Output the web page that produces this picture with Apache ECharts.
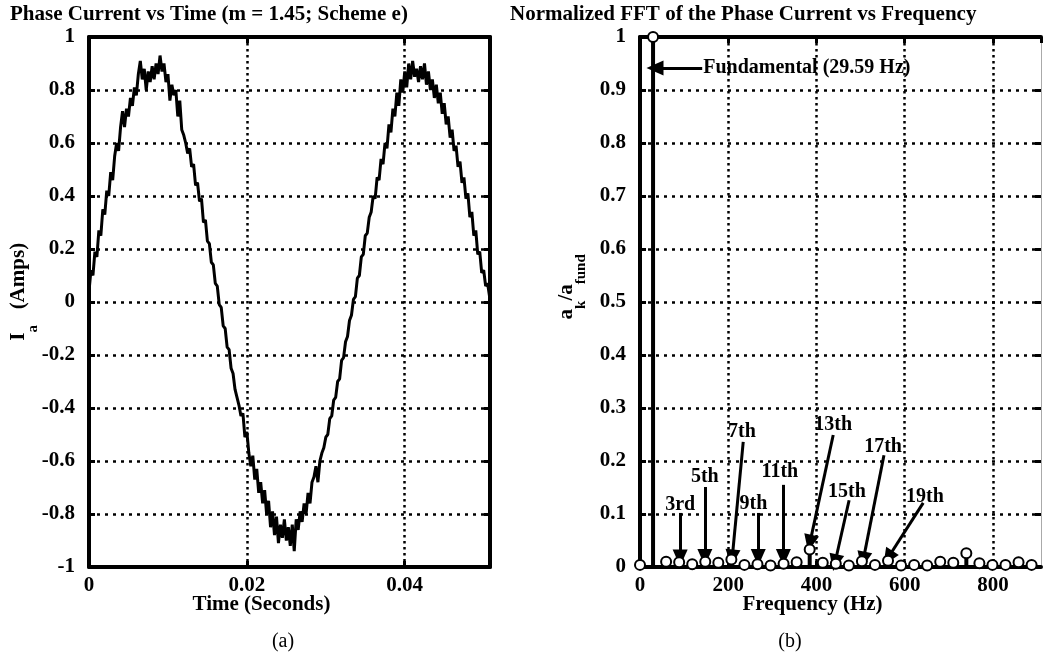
<!DOCTYPE html>
<html>
<head>
<meta charset="utf-8">
<script src="https://cdn.jsdelivr.net/npm/echarts@6/dist/echarts.min.js"></script>
<style>
html,body{margin:0;padding:0;background:#fff;}
#chart{width:1044px;height:664px;}
</style>
</head>
<body>
<div id="chart"></div>
<script>
// ---------------- DATA ----------------
// (a) phase current samples, one every sampleStep seconds
const sampleStep = 0.00025;
const currentA = [
 0.04, 0.12, 0.10, 0.19, 0.17, 0.27, 0.25, 0.35, 0.33, 0.42,
 0.40, 0.49, 0.46, 0.55, 0.60, 0.57, 0.66, 0.72, 0.66, 0.73,
 0.70, 0.77, 0.74, 0.81, 0.78, 0.86, 0.91, 0.84, 0.88, 0.80,
 0.87, 0.83, 0.89, 0.84, 0.90, 0.86, 0.93, 0.87, 0.90, 0.83,
 0.86, 0.76, 0.82, 0.78, 0.80, 0.70, 0.76, 0.65, 0.63, 0.60,
 0.56, 0.58, 0.51, 0.52, 0.44, 0.45, 0.38, 0.39, 0.30, 0.31,
 0.23, 0.22, 0.15, 0.14, 0.07, 0.06, -0.01, -0.02, -0.09, -0.10,
 -0.17, -0.18, -0.25, -0.27, -0.33, -0.36, -0.39, -0.43, -0.42, -0.51,
 -0.49, -0.57, -0.62, -0.58, -0.67, -0.63, -0.72, -0.68, -0.76, -0.71,
 -0.80, -0.75, -0.85, -0.79, -0.88, -0.81, -0.91, -0.84, -0.89, -0.82,
 -0.90, -0.85, -0.92, -0.84, -0.94, -0.82, -0.86, -0.79, -0.83, -0.76,
 -0.80, -0.72, -0.76, -0.68, -0.66, -0.62, -0.68, -0.60, -0.57, -0.55,
 -0.51, -0.50, -0.44, -0.43, -0.37, -0.36, -0.30, -0.29, -0.22, -0.21,
 -0.15, -0.13, -0.07, -0.05, 0.01, 0.02, 0.09, 0.10, 0.17, 0.18,
 0.25, 0.26, 0.32, 0.34, 0.40, 0.39, 0.47, 0.46, 0.54, 0.52,
 0.60, 0.58, 0.67, 0.64, 0.73, 0.70, 0.79, 0.74, 0.84, 0.79,
 0.87, 0.81, 0.90, 0.84, 0.91, 0.85, 0.88, 0.83, 0.89, 0.84,
 0.90, 0.82, 0.87, 0.80, 0.84, 0.77, 0.82, 0.75, 0.79, 0.71,
 0.75, 0.67, 0.70, 0.62, 0.65, 0.57, 0.59, 0.51, 0.53, 0.45,
 0.47, 0.39, 0.41, 0.32, 0.34, 0.25, 0.27, 0.18, 0.19, 0.11,
 0.12, 0.06, 0.07, 0.02
];
const timeTicks = { min: 0, max: 0.0508, interval: 0.02 };
const currentTicks = { min: -1, max: 1, interval: 0.2 };

// (b) normalized FFT harmonics
const harmonicFreqHz = [
 0, 29.59, 59.18, 88.77, 118.36, 147.95, 177.54, 207.13, 236.72, 266.31,
 295.9, 325.49, 355.08, 384.67, 414.26, 443.85, 473.44, 503.03, 532.62, 562.21,
 591.8, 621.39, 650.98, 680.57, 710.16, 739.75, 769.34, 798.93, 828.52, 858.11, 887.7
];
const harmonicAmp = [
 0.004, 1.0, 0.010, 0.009, 0.005, 0.010, 0.008, 0.014, 0.004, 0.005,
 0.003, 0.006, 0.009, 0.033, 0.008, 0.006, 0.003, 0.011, 0.004, 0.012,
 0.003, 0.004, 0.003, 0.010, 0.008, 0.026, 0.007, 0.004, 0.004, 0.009, 0.004
];
const freqTicks = { min: 0, max: 909, interval: 200 };
const ampTicks = { min: 0, max: 1, interval: 0.1 };

// annotations (data coordinates: Hz, normalized amplitude)
const harmonicNames = ['3rd', '5th', '7th', '9th', '11th', '13th', '15th', '17th', '19th'];
const harmonicLabelAt = [[91,0.117],[147,0.170],[231,0.255],[257,0.120],[317,0.180],[438,0.268],[469,0.142],[551,0.226],[646,0.132]];
const arrowFrom = [[91,0.102],[147,0.151],[234,0.236],[268,0.102],[325,0.155],[438,0.249],[474,0.126],[553,0.211],[642,0.121]];
const arrowTo   = [[91,0.017],[147,0.018],[209,0.017],[268,0.018],[325,0.018],[385,0.045],[442,0.008],[506,0.013],[562,0.017]];
const fundamentalText = 'Fundamental (29.59 Hz)';
const fundamentalArrowFrom = [141, 0.9415];
const fundamentalArrowTo = [34, 0.9415];

// ---------------- CHART ----------------
const FONT = '"Liberation Serif", "Times New Roman", serif';
const chart = echarts.init(document.getElementById('chart'), null, { renderer: 'canvas' });

const lineData = currentA.map((v, i) => [i * sampleStep, v]);
const stemData = harmonicFreqHz.map((f, i) => [f, harmonicAmp[i]]);

const boldText = (size) => ({ fontFamily: FONT, fontWeight: 'bold', fontSize: size, color: '#000' });

function frameAxis(extra) {
  return Object.assign({
    type: 'value',
    nameMoveOverlap: false,
    axisLine: { show: true, onZero: false, lineStyle: { color: '#000', width: 4 } },
    axisTick: { show: true, inside: true, length: 6, lineStyle: { color: '#000', width: 3 } },
    axisLabel: { show: false },
    splitLine: { show: false }
  }, extra);
}

const grids = [
  { left: 89, top: 37, width: 401, height: 530 },
  { left: 640, top: 37, width: 401, height: 530 }
];

const hGrid = { show: true, lineStyle: { color: '#000', width: 2.5, type: [3, 5] } };
const vGrid = { show: true, lineStyle: { color: '#000', width: 2.5, type: [2.5, 3.5] } };

const subRich = {
  m: Object.assign({ lineHeight: 20, verticalAlign: 'top' }, boldText(21)),
  s: Object.assign({ lineHeight: 15, verticalAlign: 'bottom' }, boldText(15)),
  x: { lineHeight: 33, fontSize: 4 }
};

const option = {
  backgroundColor: '#fff',
  animation: false,
  grid: grids,
  xAxis: [
    frameAxis({
      gridIndex: 0, position: 'bottom', min: timeTicks.min, max: timeTicks.max, interval: timeTicks.interval,
      axisLabel: Object.assign({ show: true, margin: 8, showMaxLabel: false }, boldText(21)),
      splitLine: vGrid,
      name: 'Time (Seconds)', nameLocation: 'middle', nameGap: 27,
      nameTextStyle: Object.assign({ padding: [0, 56, 0, 0] }, boldText(21))
    }),
    frameAxis({ gridIndex: 0, position: 'top', min: timeTicks.min, max: timeTicks.max, interval: timeTicks.interval }),
    frameAxis({
      gridIndex: 1, position: 'bottom', min: freqTicks.min, max: freqTicks.max, interval: freqTicks.interval,
      axisLabel: Object.assign({ show: true, margin: 8, showMaxLabel: false }, boldText(21)),
      splitLine: Object.assign({ showMaxLine: false }, vGrid),
      name: 'Frequency (Hz)', nameLocation: 'middle', nameGap: 27,
      nameTextStyle: Object.assign({ padding: [0, 56, 0, 0] }, boldText(21))
    }),
    frameAxis({ gridIndex: 1, position: 'top', min: freqTicks.min, max: freqTicks.max, interval: freqTicks.interval })
  ],
  yAxis: [
    frameAxis({
      gridIndex: 0, position: 'left', min: currentTicks.min, max: currentTicks.max, interval: currentTicks.interval,
      axisLabel: Object.assign({ show: true, margin: 14 }, boldText(21)),
      splitLine: hGrid,
      name: '{x|\u200a}{m|I}{s|a}{m|   (Amps)}', nameLocation: 'middle', nameGap: 48,
      nameTextStyle: { padding: [0, 0, 0, 20], rich: subRich }
    }),
    frameAxis({ gridIndex: 0, position: 'right', min: currentTicks.min, max: currentTicks.max, interval: currentTicks.interval }),
    frameAxis({
      gridIndex: 1, position: 'left', min: ampTicks.min, max: ampTicks.max, interval: ampTicks.interval,
      axisLabel: Object.assign({ show: true, margin: 14 }, boldText(21)),
      splitLine: hGrid,
      name: '{x|\u200a}{m|a}{s|k}{m|/a}{s|fund}', nameLocation: 'middle', nameGap: 51,
      nameTextStyle: { padding: [0, 0, 0, 30], rich: subRich }
    }),
    frameAxis({
      gridIndex: 1, position: 'right', min: ampTicks.min, max: ampTicks.max, interval: ampTicks.interval,
      axisLine: { show: true, onZero: false, lineStyle: { color: '#aaa', width: 1 } }
    })
  ],
  series: [
    {
      type: 'line', xAxisIndex: 0, yAxisIndex: 0, data: lineData,
      showSymbol: false, symbol: 'none',
      lineStyle: { color: '#000', width: 3 }, z: 5
    },
    {
      type: 'bar', xAxisIndex: 2, yAxisIndex: 2, data: stemData,
      barWidth: 4, itemStyle: { color: '#000' }, z: 5
    },
    {
      type: 'scatter', xAxisIndex: 2, yAxisIndex: 2, data: stemData,
      symbol: 'emptyCircle', symbolSize: 10,
      itemStyle: { color: '#000', borderColor: '#000', borderWidth: 2.5, opacity: 1 }, z: 6
    },
    {
      type: 'scatter', xAxisIndex: 2, yAxisIndex: 2, z: 8,
      symbolSize: 0, itemStyle: { color: '#000', opacity: 1 },
      data: harmonicNames.map((n, i) => ({ name: n, value: harmonicLabelAt[i] }))
        .concat([{ name: fundamentalText, value: fundamentalArrowFrom,
                   label: { position: 'right', distance: 1 } }]),
      label: Object.assign({ show: true, position: 'inside', formatter: (p) => p.name }, boldText(20)),
      markLine: {
        silent: true,
        symbol: ['none', 'triangle'],
        symbolSize: [15, 17],
        label: { show: false },
        lineStyle: { color: '#000', width: 3, type: 'solid', opacity: 1 },
        itemStyle: { color: '#000', opacity: 1 },
        data: arrowFrom.map((a, i) => [{ coord: a }, { coord: arrowTo[i] }])
          .concat([[{ coord: fundamentalArrowFrom }, { coord: fundamentalArrowTo }]])
      }
    }
  ],
  graphic: [
    { type: 'text', x: 10, y: 15, style: { text: 'Phase Current vs Time (m = 1.45; Scheme e)', textVerticalAlign: 'middle', font: 'bold 21px ' + FONT, fill: '#000' } },
    { type: 'text', x: 510, y: 15, style: { text: 'Normalized FFT of the Phase Current vs Frequency', textVerticalAlign: 'middle', font: 'bold 21px ' + FONT, fill: '#000' } },
    { type: 'text', x: 283, y: 642, style: { text: '(a)', textAlign: 'center', textVerticalAlign: 'middle', font: '20px ' + FONT, fill: '#000' } },
    { type: 'text', x: 790, y: 642, style: { text: '(b)', textAlign: 'center', textVerticalAlign: 'middle', font: '20px ' + FONT, fill: '#000' } }
  ]
};
chart.setOption(option);
</script>
</body>
</html>
